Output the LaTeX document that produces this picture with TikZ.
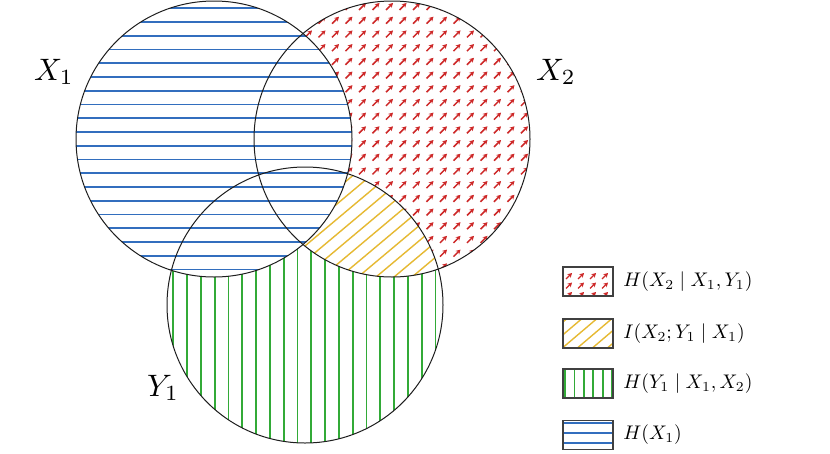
\documentclass[tikz,border=0pt]{standalone}
\usetikzlibrary{arrows.meta}
\definecolor{hblue}{RGB}{50,110,190}
\definecolor{hgreen}{RGB}{50,170,55}
\definecolor{hyellow}{RGB}{230,185,50}
\definecolor{hred}{RGB}{205,40,40}
\definecolor{outl}{RGB}{30,30,30}
\tikzset{
  bline/.style={hblue,line width=1.8pt},
  gline/.style={hgreen,line width=1.8pt},
  yline/.style={hyellow,line width=1.4pt},
  rarrow/.style={hred,line width=1.5pt,-{Stealth[length=4.5pt,width=5pt]}},
  venn/.style={circle,draw=outl,line width=1pt,minimum size=276pt,inner sep=0pt},
  setlabel/.style={scale=3.1,inner sep=0pt},
  legbox/.style={draw=black!75,line width=1.4pt,minimum width=50pt,minimum height=29pt,inner sep=0pt},
  legtext/.style={scale=1.97,inner sep=0pt,anchor=west}
}
\begin{document}
\begin{tikzpicture}[x=1pt,y=-1pt]
\useasboundingbox (0,0) rectangle (830,453);
% red arrows in X2
\begin{scope}
  \clip (392,139) circle[radius=138pt];
  \foreach \i in {0,...,21} \foreach \j in {0,...,20}
    \draw[rarrow] ({251+13.5*\i},{10+13.7*\j}) -- ++(7,-7);
\end{scope}
% green verticals in Y1
\begin{scope}
  \clip (305,305) circle[radius=138pt];
  \fill[white] (160,160) rectangle (450,450);
  \foreach \k in {-1,...,20}
    \draw[gline] ({173.3+13.8*\k},160) -- ++(0,300);
\end{scope}
% yellow diagonals in X2 and Y1
\begin{scope}
  \clip (305,305) circle[radius=138pt];
  \clip (392,139) circle[radius=138pt];
  \fill[white] (160,160) rectangle (450,450);
  \foreach \k in {-15,...,15}
    \draw[yline] ({360+18*\k-200},398) -- ++(400,-336);
\end{scope}
% blue horizontals in X1
\begin{scope}
  \clip (214,139) circle[radius=138pt];
  \fill[white] (70,0) rectangle (360,280);
  \foreach \k in {0,...,20}
    \draw[bline] (70,{8.3+13.75*\k}) -- (360,{8.3+13.75*\k});
\end{scope}
% outlines
\node[venn] (X1) at (214,139) {};
\node[venn] (X2) at (392,139) {};
\node[venn] (Y1) at (305,305) {};
% set labels
\node[setlabel] (lX1) at (54,72) {$X_1$};
\node[setlabel] (lX2) at (556,72) {$X_2$};
\node[setlabel] (lY1) at (163,388) {$Y_1$};
% legend 1: red arrows
\begin{scope}
  \clip (563,267) rectangle (613,296);
  \foreach \i in {0,...,3} \foreach \j in {0,...,2}
    \draw[rarrow,line width=1.2pt] ({566+12*\i},{279+9.5*\j}) -- ++(6,-6);
\end{scope}
\node[legbox] (L1) at (588,281.5) {};
\node[legtext] (T1) at (623,281.5) {$H(X_2\mid X_1,Y_1)$};
% legend 2: yellow
\begin{scope}
  \clip (563,319) rectangle (613,348);
  \foreach \k in {-3,...,5}
    \draw[yline] ({565+15*\k-20},{333+17}) -- ++(40,-34);
\end{scope}
\node[legbox] (L2) at (588,333.5) {};
\node[legtext] (T2) at (623,333.5) {$I(X_2;Y_1\mid X_1)$};
% legend 3: green
\begin{scope}
  \clip (563,369) rectangle (613,398);
  \foreach \k in {0,...,5}
    \draw[gline] ({565+9.4*\k},369) -- ++(0,29);
\end{scope}
\node[legbox] (L3) at (588,383.5) {};
\node[legtext] (T3) at (623,383.5) {$H(Y_1\mid X_1,X_2)$};
% legend 4: blue
\begin{scope}
  \clip (563,421) rectangle (613,449);
  \foreach \k in {0,...,2}
    \draw[bline] (563,{423.3+10*\k}) -- ++(50,0);
\end{scope}
\node[legbox] (L4) at (588,435) {};
\node[legtext] (T4) at (623,435) {$H(X_1)$};
\end{tikzpicture}
\end{document}
